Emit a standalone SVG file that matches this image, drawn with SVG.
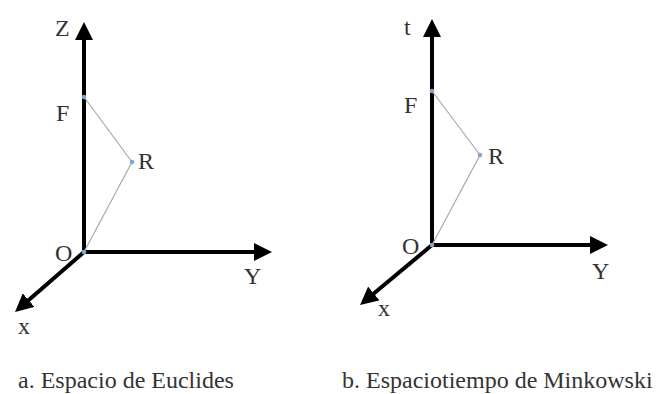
<svg xmlns="http://www.w3.org/2000/svg" width="658" height="394" viewBox="0 0 658 394">
<style>
.ax{stroke:#000;stroke-width:4;fill:none}
.ln{stroke:#aaa;stroke-width:1.2;fill:none}
.pt{fill:#7fa6d6}
.lb{font-size:24px}
.cap{font-size:24px}
</style>
<defs>
<marker id="ah" viewBox="0 0 10 10" refX="2" refY="5" markerWidth="4.5" markerHeight="4.5" markerUnits="strokeWidth" orient="auto">
<path d="M0,0 L10,5 L0,10 z" fill="#000"/>
</marker>
</defs>
<g id="connectors">
<line class="ax" x1="84" y1="252" x2="84" y2="36.4" marker-end="url(#ah)"/>
<line class="ax" x1="84" y1="252" x2="257.6" y2="252" marker-end="url(#ah)"/>
<line class="ax" x1="84" y1="252" x2="25.9" y2="302.5" marker-end="url(#ah)"/>
<polyline class="ln" points="84,97 132,162 84,252"/>
<line class="ax" x1="432" y1="245" x2="432" y2="33.4" marker-end="url(#ah)"/>
<line class="ax" x1="432" y1="245" x2="593.6" y2="245" marker-end="url(#ah)"/>
<line class="ax" x1="432" y1="245" x2="371.1" y2="295.8" marker-end="url(#ah)"/>
<polyline class="ln" points="432,91 480,155 432,245"/>
</g>
<g font-family="'Liberation Serif', 'DejaVu Serif', serif" fill="#333">
<g id="diagram-a">
<text class="lb" x="55" y="36">Z</text>
<circle class="pt" cx="84" cy="97" r="2.3"/>
<text class="lb" x="56" y="121">F</text>
<circle class="pt" cx="132" cy="162" r="2.3"/>
<text class="lb" x="138" y="169">R</text>
<circle class="pt" cx="84" cy="252" r="2.3"/>
<text class="lb" x="55" y="261">O</text>
<text class="lb" x="244" y="284">Y</text>
<text class="lb" x="18" y="334">x</text>
<text class="cap" x="18" y="388">a. Espacio de Euclides</text>
</g>
<g id="diagram-b">
<text class="lb" x="404" y="35">t</text>
<circle class="pt" cx="432" cy="91" r="2.3"/>
<text class="lb" x="404" y="113">F</text>
<circle class="pt" cx="480" cy="155" r="2.3"/>
<text class="lb" x="488" y="164">R</text>
<circle class="pt" cx="432" cy="245" r="2.3"/>
<text class="lb" x="402" y="254">O</text>
<text class="lb" x="592" y="279">Y</text>
<text class="lb" x="378" y="316">x</text>
<text class="cap" x="342" y="388">b. Espaciotiempo de Minkowski</text>
</g>
</g>
</svg>
